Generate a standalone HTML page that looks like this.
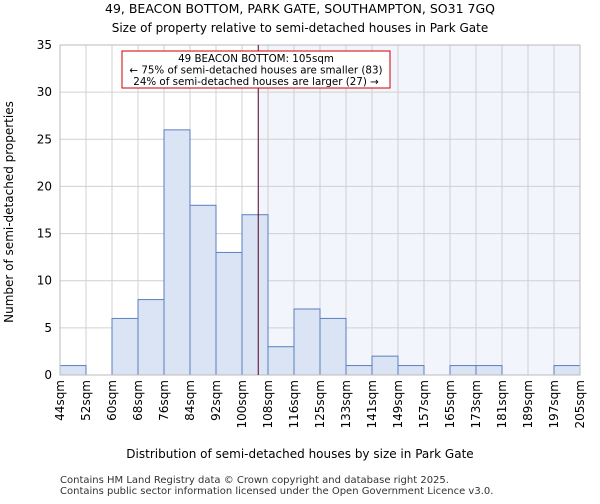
<!DOCTYPE html>
<html><head><meta charset="utf-8"><style>
body{margin:0;background:#fff;font-family:"DejaVu Sans","Liberation Sans",sans-serif;}
</style></head><body>
<svg width="600" height="500" xmlns="http://www.w3.org/2000/svg" font-family="DejaVu Sans, Liberation Sans, sans-serif">
<g id="grid"></g>
<g id="bars"></g>
<g id="axes"></g>
<text x="300" y="13" text-anchor="middle" font-size="12.5">49, BEACON BOTTOM, PARK GATE, SOUTHAMPTON, SO31 7GQ</text>
<text x="300" y="32" text-anchor="middle" font-size="12">Size of property relative to semi-detached houses in Park Gate</text>
<text x="300" y="458" text-anchor="middle" font-size="12">Distribution of semi-detached houses by size in Park Gate</text>
<text transform="translate(13,212) rotate(-90)" text-anchor="middle" font-size="12">Number of semi-detached properties</text>
<text x="60" y="483" font-size="10" fill="#333">Contains HM Land Registry data © Crown copyright and database right 2025.</text>
<text x="60" y="494" font-size="10" fill="#333">Contains public sector information licensed under the Open Government Licence v3.0.</text>
</svg>
<script>
const categories=["44sqm","52sqm","60sqm","68sqm","76sqm","84sqm","92sqm","100sqm","108sqm","116sqm","125sqm","133sqm","141sqm","149sqm","157sqm","165sqm","173sqm","181sqm","189sqm","197sqm","205sqm"];
const counts=[1,0,6,8,26,18,13,17,3,7,6,1,2,1,0,1,1,0,0,1];
const yTicks=[0,5,10,15,20,25,30,35];
const markerBin=7.625;
const NS="http://www.w3.org/2000/svg";
const L=60,R=580,T=45,B=375,yMax=35;
const bw=(R-L)/counts.length;
const xs=i=>L+i*bw;
const ys=v=>B-(v/yMax)*(B-T);
function mk(t,a,p){const e=document.createElementNS(NS,t);for(const k in a)e.setAttribute(k,a[k]);p.appendChild(e);return e;}
const grid=document.getElementById('grid'),bars=document.getElementById('bars'),axes=document.getElementById('axes');
const mx=xs(markerBin);
const shade=mk('rect',{x:mx,y:T,width:R-mx,height:B-T,fill:'#f3f5fc'},grid);


for(let i=0;i<=counts.length;i++){const l=mk('line',{x1:xs(i),x2:xs(i),y1:T,y2:B,stroke:'#d0d0d0','stroke-width':1},grid);

}
yTicks.forEach(v=>{const l=mk('line',{x1:L,x2:R,y1:ys(v),y2:ys(v),stroke:'#d0d0d0','stroke-width':1},grid);


const t=mk('text',{x:L-8,y:ys(v)+4,'text-anchor':'end','font-size':12},axes);t.textContent=v;

});
counts.forEach((c,i)=>{if(c<=0)return;const r=mk('rect',{x:xs(i),y:ys(c),width:bw,height:B-ys(c),fill:'#dae4f4',stroke:'#5a7fc0','stroke-width':1},bars);

});
categories.forEach((c,i)=>{const x=xs(i);const t=mk('text',{transform:`translate(${x+4},380) rotate(-90)`,'text-anchor':'end','font-size':12},axes);t.textContent=c;

});
const ax=mk('rect',{x:L,y:T,width:R-L,height:B-T,fill:'none',stroke:'#bbb'},axes);


const ml=mk('line',{x1:mx,x2:mx,y1:T,y2:B,stroke:'#550022','stroke-width':1},axes);


const box=mk('rect',{x:122,y:51,width:268,height:37,fill:'#fff',stroke:'#cc0000','stroke-width':1},axes);


["49 BEACON BOTTOM: 105sqm","← 75% of semi-detached houses are smaller (83)","24% of semi-detached houses are larger (27) →"].forEach((s,i)=>{const t=mk('text',{x:256,y:62+i*11.5,'text-anchor':'middle','font-size':10.3},axes);t.textContent=s;

});
</script>
</body></html>
